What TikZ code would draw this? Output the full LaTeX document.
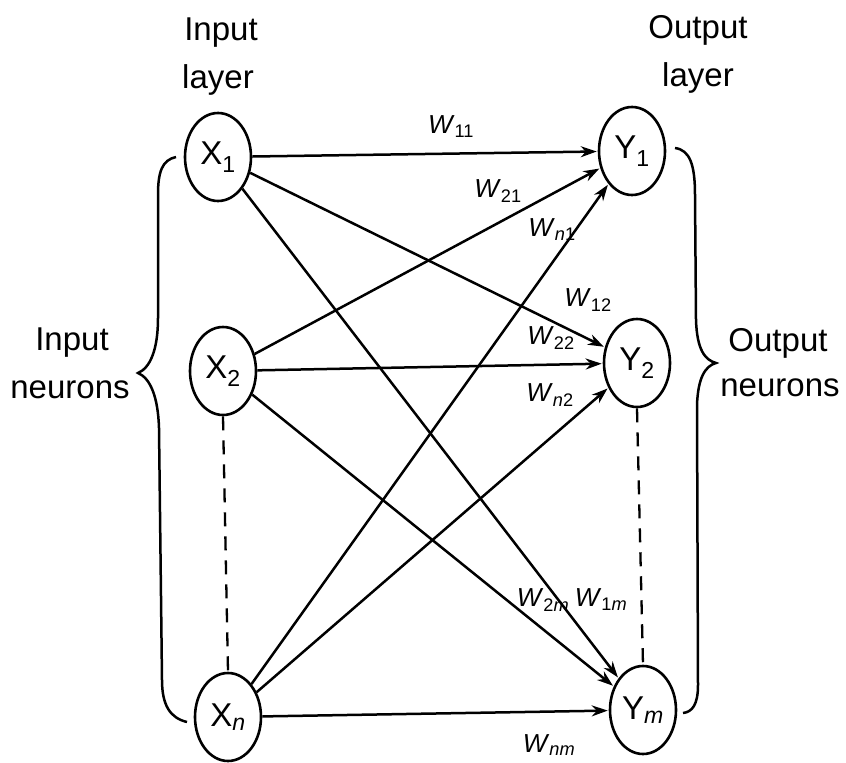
\documentclass[tikz,border=0pt]{standalone}
\usepackage{fontspec}
\setmainfont{Liberation Sans}
\usetikzlibrary{arrows.meta,shapes.geometric}
\newcommand{\wlb}[1]{\textit{W}\textsubscript{#1}}
\begin{document}
\begin{tikzpicture}[x=1pt,y=-1pt,
  neuron/.style={draw,ellipse,line width=2.6pt,minimum width=66pt,minimum height=88pt,inner sep=0pt,font=\fontsize{33}{35}\selectfont},
  conn/.style={line width=2.5pt,-{Stealth[length=16pt,width=11pt]},shorten >=1pt},
  wlab/.style={font=\fontsize{26}{28}\selectfont,inner sep=0pt},
  big/.style={font=\fontsize{33}{36}\selectfont,align=center,inner sep=0pt},
  bracepath/.style={line width=2.5pt},
  dashline/.style={line width=2.3pt,dash pattern=on 14pt off 10pt}]
\useasboundingbox (0,0) rectangle (846,763);
% neurons
\node[neuron] (x1) at (218,157) {X\textsubscript{1}};
\node[neuron] (x2) at (223,371) {X\textsubscript{2}};
\node[neuron] (xn) at (228,717) {X\textsubscript{\textit{n}}};
\node[neuron] (y1) at (632,151) {Y\textsubscript{1}};
\node[neuron] (y2) at (637,363) {Y\textsubscript{2}};
\node[neuron] (ym) at (643,710) {Y\textsubscript{\textit{m}}};
% headings
\node[big] (il1) at (221,33) {Input};
\node[big] (il2) at (218,80) {layer};
\node[big] (ol1) at (698,30) {Output};
\node[big] (ol2) at (698,78) {layer};
\node[big] (in1) at (72,343) {Input};
\node[big] (in2) at (70,390) {neurons};
\node[big] (on1) at (778,343) {Output};
\node[big] (on2) at (780,388) {neurons};
% connections
\foreach \s in {x1,x2,xn}{
  \foreach \t in {y1,y2,ym}{
    \draw[conn] (\s) -- (\t);
  }
}
% dashed
\draw[dashline] (x2.south) -- (xn.north);
\draw[dashline] (y2.south) -- (ym.north);
% weights
\node[wlab] (w11) at (451,127) {\wlb{11}};
\node[wlab] (w21) at (498,191) {\wlb{21}};
\node[wlab] (wn1) at (552,230) {\wlb{\textit{n}1}};
\node[wlab] (w12) at (588,300) {\wlb{12}};
\node[wlab] (w22) at (551,338) {\wlb{22}};
\node[wlab] (wn2) at (550,395) {\wlb{\textit{n}2}};
\node[wlab] (w2m) at (543,600) {\wlb{2\textit{m}}};
\node[wlab] (w1m) at (601,600) {\wlb{1\textit{m}}};
\node[wlab] (wnm) at (549,745) {\wlb{\textit{nm}}};
% braces
\draw[bracepath] (176,157) .. controls (162,160) and (158,172) .. (158,195) -- (158,318)
  .. controls (158,350) and (150,368) .. (138,373)
  .. controls (150,378) and (158,396) .. (159,428) -- (162,680)
  .. controls (162,705) and (170,718) .. (187,722);
\draw[bracepath] (675,148) .. controls (690,150) and (695,165) .. (695,195) -- (696,320)
  .. controls (697,350) and (705,360) .. (716,363)
  .. controls (705,366) and (698,378) .. (697,405) -- (698,685)
  .. controls (698,705) and (692,712) .. (683,713);
\end{tikzpicture}
\end{document}
